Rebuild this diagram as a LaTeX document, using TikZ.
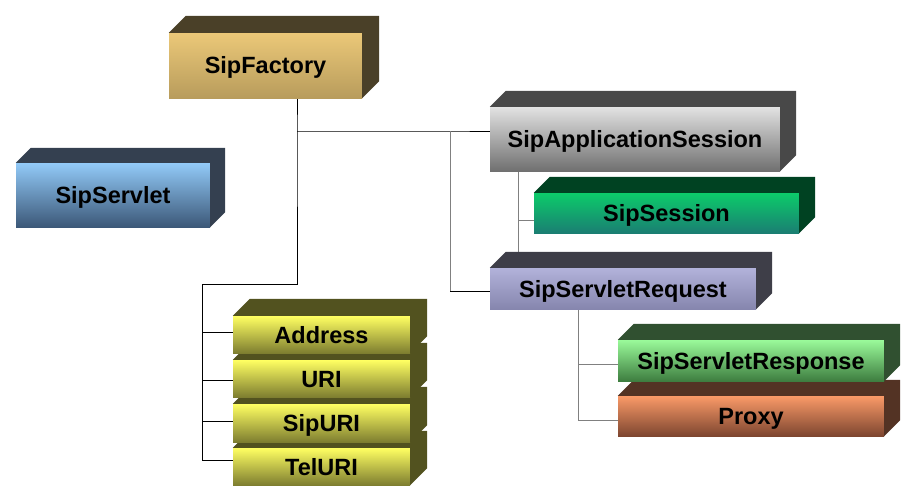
\documentclass[tikz,border=0pt]{standalone}
\usepackage{fontspec}
\setmainfont{Liberation Sans}
\usetikzlibrary{calc}
\pgfdeclarelayer{bg}
\pgfsetlayers{bg,main}
\definecolor{facT}{HTML}{EBC878}\definecolor{facB}{HTML}{B89C5C}\definecolor{facS}{HTML}{4A4028}
\definecolor{srvT}{HTML}{92CAF8}\definecolor{srvB}{HTML}{3C5878}\definecolor{srvS}{HTML}{344050}
\definecolor{asT}{HTML}{E2E2E2}\definecolor{asB}{HTML}{707070}\definecolor{asS}{HTML}{484848}
\definecolor{ssT}{HTML}{0CCC6A}\definecolor{ssB}{HTML}{1A7E72}\definecolor{ssS}{HTML}{004222}
\definecolor{rqT}{HTML}{B2B2DA}\definecolor{rqB}{HTML}{8686AE}\definecolor{rqS}{HTML}{3E3E48}
\definecolor{rsT}{HTML}{9AFA9A}\definecolor{rsB}{HTML}{3E7E40}\definecolor{rsS}{HTML}{305030}
\definecolor{pxT}{HTML}{FA9A68}\definecolor{pxB}{HTML}{7E4630}\definecolor{pxS}{HTML}{533324}
\definecolor{yT}{HTML}{FFFF62}\definecolor{yB}{HTML}{7E7E30}\definecolor{yS}{HTML}{52521F}
\definecolor{lineG}{HTML}{808080}
\tikzset{
  box/.style n args={2}{draw=none, inner sep=0pt, top color=#1, bottom color=#2,
     font=\bfseries\fontsize{23.5}{26}\selectfont, text height=17pt, text depth=0pt},
  conn/.style={draw=black, line width=0.8pt},
  conng/.style={draw=lineG, line width=0.8pt}
}
\newcommand\cubefaces[3]{%
  \fill[#2] (#1.north west) -- ++(#3,-#3) -- ($(#1.north east)+(#3,-#3)$)
     -- ($(#1.south east)+(#3,-#3)$) -- (#1.south east) -- (#1.north east) -- cycle;}
\begin{document}
\begin{tikzpicture}[x=1pt,y=-1pt]
\useasboundingbox (0,0) rectangle (916,495);
% joints
\coordinate (t1) at (297,131);
\coordinate (t2) at (297,284);
\coordinate (r0) at (202,284);
\coordinate (r1) at (202,332);
\coordinate (r2) at (202,380);
\coordinate (r3) at (202,421);
\coordinate (r4) at (202,460);
\coordinate (v1) at (450,131);
\coordinate (v2) at (450,291);
\coordinate (g0) at (518,171);
\coordinate (g1) at (518,220);
\coordinate (p1) at (578,364);
\coordinate (p2) at (578,420);
% ---- boxes (lower ones first) ----
\node[box={facT}{facB}, minimum width=193pt, minimum height=65pt] (fac) at (265.5,65.5) {SipFactory};
\cubefaces{fac}{facS}{17}
\node[box={srvT}{srvB}, minimum width=194pt, minimum height=64pt] (srv) at (113,195) {SipServlet};
\cubefaces{srv}{srvS}{15}
\node[box={ssT}{ssB}, minimum width=265pt, minimum height=40pt] (ss) at (666.5,213) {SipSession};
\cubefaces{ss}{ssS}{16}
\node[box={asT}{asB}, minimum width=290pt, minimum height=64pt] (as) at (635,139) {SipApplicationSession};
\cubefaces{as}{asS}{16}
\node[box={rqT}{rqB}, minimum width=266pt, minimum height=41pt] (rq) at (623,288.5) {SipServletRequest};
\cubefaces{rq}{rqS}{16}
\node[box={pxT}{pxB}, minimum width=266pt, minimum height=40pt] (px) at (751,416) {Proxy};
\cubefaces{px}{pxS}{16}
\node[box={rsT}{rsB}, minimum width=266pt, minimum height=41pt] (rs) at (751,360.5) {SipServletResponse};
\cubefaces{rs}{rsS}{16}
\node[box={yT}{yB}, minimum width=177pt, minimum height=37pt] (tel) at (321.5,466.5) {TelURI};
\cubefaces{tel}{yS}{17}
\node[box={yT}{yB}, minimum width=177pt, minimum height=38pt] (suri) at (321.5,423) {SipURI};
\cubefaces{suri}{yS}{17}
\node[box={yT}{yB}, minimum width=177pt, minimum height=37pt] (uri) at (321.5,378.5) {URI};
\cubefaces{uri}{yS}{17}
\node[box={yT}{yB}, minimum width=177pt, minimum height=37pt] (addr) at (321.5,334.5) {Address};
\cubefaces{addr}{yS}{17}
% ---- connectors behind ----
\begin{pgfonlayer}{bg}
\draw[conn] (fac.south -| t1) -- (t1) -- (t2) -- (r0) -- (r4) -- (r4 -| tel.west);
\draw[conn] (r1) -- (r1 -| addr.west);
\draw[conn] (r2) -- (r2 -| uri.west);
\draw[conn] (r3) -- (r3 -| suri.west);
\draw[conn] (t1) -- (v1) -- (v1 -| as.west);
\draw[conng] (v1) -- (v2);
\draw[conn] (v2) -- (v2 -| rq.west);
\draw[conng] (as.south -| g0) -- (rq.north -| g0);
\draw[conng] (g1) -- (g1 -| ss.west);
\draw[conng] (rq.south -| p1) -- (p2) -- (p2 -| px.west);
\draw[conng] (p1) -- (p1 -| rs.west);
\end{pgfonlayer}
\end{tikzpicture}
\end{document}
